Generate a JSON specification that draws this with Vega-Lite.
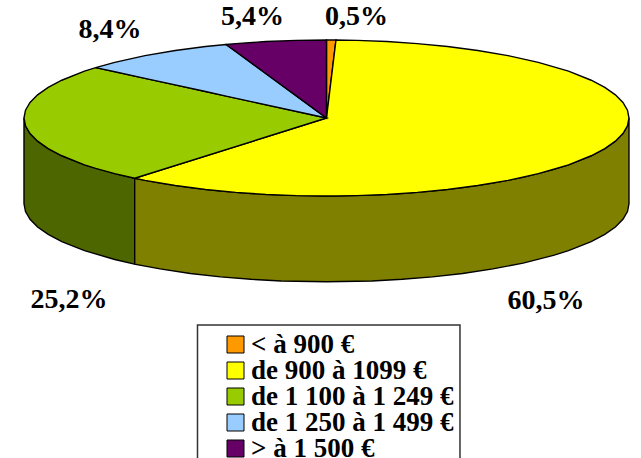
{"$schema":"https://vega.github.io/schema/vega-lite/v6.json","width":641,"height":458,"padding":0,"autosize":{"type":"none"},"background":"white","config":{"view":{"stroke":null}},
"datasets":{
"sides":[
{"part":"g","u":-1,"a":0,"b":-1.1},{"part":"g","u":-0.995,"a":-0.1,"b":-1.2},{"part":"g","u":-0.98,"a":-0.199,"b":-1.299},{"part":"g","u":-0.955,"a":-0.297,"b":-1.397},{"part":"g","u":-0.92,"a":-0.392,"b":-1.492},{"part":"g","u":-0.875,"a":-0.484,"b":-1.584},{"part":"g","u":-0.8,"a":-0.6,"b":-1.7},{"part":"g","u":-0.7,"a":-0.714,"b":-1.814},{"part":"g","u":-0.634,"a":-0.773,"b":-1.873},
{"part":"y","u":-0.634,"a":-0.773,"b":-1.873},{"part":"y","u":-0.55,"a":-0.835,"b":-1.935},{"part":"y","u":-0.45,"a":-0.893,"b":-1.993},{"part":"y","u":-0.35,"a":-0.937,"b":-2.037},{"part":"y","u":-0.25,"a":-0.968,"b":-2.068},{"part":"y","u":-0.15,"a":-0.989,"b":-2.089},{"part":"y","u":0,"a":-1,"b":-2.1},{"part":"y","u":0.15,"a":-0.989,"b":-2.089},{"part":"y","u":0.25,"a":-0.968,"b":-2.068},{"part":"y","u":0.35,"a":-0.937,"b":-2.037},{"part":"y","u":0.45,"a":-0.893,"b":-1.993},{"part":"y","u":0.55,"a":-0.835,"b":-1.935},{"part":"y","u":0.65,"a":-0.76,"b":-1.86},{"part":"y","u":0.75,"a":-0.661,"b":-1.761},{"part":"y","u":0.8,"a":-0.6,"b":-1.7},{"part":"y","u":0.875,"a":-0.484,"b":-1.584},{"part":"y","u":0.92,"a":-0.392,"b":-1.492},{"part":"y","u":0.955,"a":-0.297,"b":-1.397},{"part":"y","u":0.98,"a":-0.199,"b":-1.299},{"part":"y","u":0.995,"a":-0.1,"b":-1.2},{"part":"y","u":1,"a":0,"b":-1.1}
],
"tops":[
{"tranche":"< à 900 €","u":0,"a":1,"b":0},{"tranche":"< à 900 €","u":0.0314,"a":0.9995,"b":0.9995},
{"tranche":"de 900 à 1099 €","u":-0.634,"a":-0.773,"b":-0.773},{"tranche":"de 900 à 1099 €","u":-0.6,"a":-0.731,"b":-0.8},{"tranche":"de 900 à 1099 €","u":-0.5,"a":-0.61,"b":-0.866},{"tranche":"de 900 à 1099 €","u":-0.4,"a":-0.488,"b":-0.917},{"tranche":"de 900 à 1099 €","u":-0.3,"a":-0.366,"b":-0.954},{"tranche":"de 900 à 1099 €","u":-0.2,"a":-0.244,"b":-0.98},{"tranche":"de 900 à 1099 €","u":-0.1,"a":-0.122,"b":-0.995},{"tranche":"de 900 à 1099 €","u":0,"a":0,"b":-1},{"tranche":"de 900 à 1099 €","u":0.0314,"a":0.9995,"b":-0.9995},{"tranche":"de 900 à 1099 €","u":0.1,"a":0.995,"b":-0.995},{"tranche":"de 900 à 1099 €","u":0.2,"a":0.98,"b":-0.98},{"tranche":"de 900 à 1099 €","u":0.3,"a":0.954,"b":-0.954},{"tranche":"de 900 à 1099 €","u":0.4,"a":0.917,"b":-0.917},{"tranche":"de 900 à 1099 €","u":0.5,"a":0.866,"b":-0.866},{"tranche":"de 900 à 1099 €","u":0.6,"a":0.8,"b":-0.8},{"tranche":"de 900 à 1099 €","u":0.7,"a":0.714,"b":-0.714},{"tranche":"de 900 à 1099 €","u":0.8,"a":0.6,"b":-0.6},{"tranche":"de 900 à 1099 €","u":0.875,"a":0.484,"b":-0.484},{"tranche":"de 900 à 1099 €","u":0.92,"a":0.392,"b":-0.392},{"tranche":"de 900 à 1099 €","u":0.955,"a":0.297,"b":-0.297},{"tranche":"de 900 à 1099 €","u":0.98,"a":0.199,"b":-0.199},{"tranche":"de 900 à 1099 €","u":0.995,"a":0.1,"b":-0.1},{"tranche":"de 900 à 1099 €","u":1,"a":0,"b":0},
{"tranche":"de 1 100 à 1 249 €","u":-1,"a":0,"b":0},{"tranche":"de 1 100 à 1 249 €","u":-0.995,"a":0.1,"b":-0.1},{"tranche":"de 1 100 à 1 249 €","u":-0.98,"a":0.199,"b":-0.199},{"tranche":"de 1 100 à 1 249 €","u":-0.955,"a":0.297,"b":-0.297},{"tranche":"de 1 100 à 1 249 €","u":-0.92,"a":0.392,"b":-0.392},{"tranche":"de 1 100 à 1 249 €","u":-0.875,"a":0.484,"b":-0.484},{"tranche":"de 1 100 à 1 249 €","u":-0.8,"a":0.6,"b":-0.6},{"tranche":"de 1 100 à 1 249 €","u":-0.763,"a":0.646,"b":-0.646},{"tranche":"de 1 100 à 1 249 €","u":-0.7,"a":0.594,"b":-0.714},{"tranche":"de 1 100 à 1 249 €","u":-0.634,"a":0.538,"b":-0.773},{"tranche":"de 1 100 à 1 249 €","u":0,"a":0,"b":0},
{"tranche":"de 1 250 à 1 499 €","u":-0.763,"a":0.646,"b":0.646},{"tranche":"de 1 250 à 1 499 €","u":-0.7,"a":0.714,"b":0.593},{"tranche":"de 1 250 à 1 499 €","u":-0.6,"a":0.8,"b":0.508},{"tranche":"de 1 250 à 1 499 €","u":-0.5,"a":0.866,"b":0.424},{"tranche":"de 1 250 à 1 499 €","u":-0.4,"a":0.917,"b":0.339},{"tranche":"de 1 250 à 1 499 €","u":-0.332,"a":0.943,"b":0.281},{"tranche":"de 1 250 à 1 499 €","u":0,"a":0,"b":0},
{"tranche":"> à 1 500 €","u":-0.332,"a":0.943,"b":0.943},{"tranche":"> à 1 500 €","u":-0.3,"a":0.954,"b":0.852},{"tranche":"> à 1 500 €","u":-0.2,"a":0.98,"b":0.568},{"tranche":"> à 1 500 €","u":-0.1,"a":0.995,"b":0.284},{"tranche":"> à 1 500 €","u":0,"a":1,"b":0}
],
"labels":[{"t":"8,4%","u":-0.716,"v":1.026},{"t":"5,4%","u":-0.245,"v":1.192},{"t":"0,5%","u":0.099,"v":1.192},{"t":"25,2%","u":-0.851,"v":-2.436},{"t":"60,5%","u":0.726,"v":-2.449}],
"box":[{"u":-0.4264,"u2":0.4413,"v":-2.654,"v2":-4.6}]
},
"layer":[
{"data":{"name":"sides"},"mark":{"type":"area","orient":"vertical","stroke":"black","strokeWidth":1.4,"fillOpacity":1},
"encoding":{"x":{"field":"u","type":"quantitative","scale":{"domain":[-1.0793,1.0397]},"axis":null},"y":{"field":"a","type":"quantitative","scale":{"domain":[-4.359,1.5128]},"axis":null},"y2":{"field":"b"},"color":{"field":"part","type":"nominal","scale":{"domain":["g","y"],"range":["#4D6600","#808000"]},"legend":null}}},
{"data":{"name":"tops"},"mark":{"type":"area","orient":"vertical","stroke":"black","strokeWidth":1.4,"fillOpacity":1},
"encoding":{"x":{"field":"u","type":"quantitative","scale":{"domain":[-1.0793,1.0397]},"axis":null},"y":{"field":"a","type":"quantitative","scale":{"domain":[-4.359,1.5128]},"axis":null},"y2":{"field":"b"},"color":{"field":"tranche","type":"nominal","sort":null,"scale":{"domain":["< à 900 €","de 900 à 1099 €","de 1 100 à 1 249 €","de 1 250 à 1 499 €","> à 1 500 €"],"range":["#FF9900","#FFFF00","#99CC00","#99CCFF","#660066"]},
"legend":{"title":null,"orient":"none","legendX":222,"legendY":332,"padding":0,"symbolType":"square","symbolSize":289,"symbolStrokeColor":"black","symbolStrokeWidth":1,"symbolOpacity":1,"labelFont":"Liberation Serif","labelFontWeight":"bold","labelFontSize":27,"labelColor":"black","labelOffset":2,"rowPadding":-3,"clipHeight":25,"labelLimit":300}}}},
{"data":{"name":"labels"},"mark":{"type":"text","font":"Liberation Serif","fontWeight":"bold","fontSize":28,"align":"center","baseline":"alphabetic","color":"black"},
"encoding":{"x":{"field":"u","type":"quantitative","scale":{"domain":[-1.0793,1.0397]},"axis":null},"y":{"field":"v","type":"quantitative","scale":{"domain":[-4.359,1.5128]},"axis":null},"text":{"field":"t"}}},
{"data":{"name":"box"},"mark":{"type":"rect","fill":null,"fillOpacity":0,"stroke":"#333333","strokeWidth":1.5,"clip":true},
"encoding":{"x":{"field":"u","type":"quantitative","scale":{"domain":[-1.0793,1.0397]},"axis":null},"x2":{"field":"u2"},"y":{"field":"v","type":"quantitative","scale":{"domain":[-4.359,1.5128]},"axis":null},"y2":{"field":"v2"}}}
],
"resolve":{"scale":{"color":"independent"}}}
